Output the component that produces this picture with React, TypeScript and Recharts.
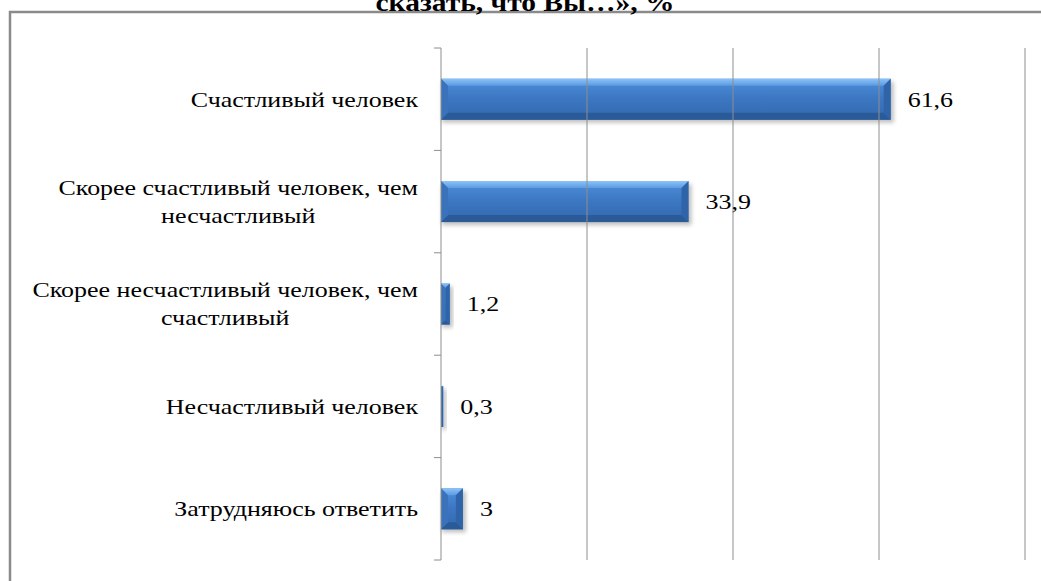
import React from 'react';
import { Bar, BarChart, LabelList, ReferenceLine, XAxis, YAxis } from 'recharts';

const categories = [
  'Счастливый человек',
  'Скорее счастливый человек, чем\nнесчастливый',
  'Скорее несчастливый человек, чем\nсчастливый',
  'Несчастливый человек',
  'Затрудняюсь ответить',
];
const values = [61.6, 33.9, 1.2, 0.3, 3];
const xTicks = [0, 20, 40, 60, 80];
const title = 'сказать, что Вы…», %';

const data = categories.map((name, i) => ({ name, value: values[i] }));

const W = 1041;
const H = 581;
const M = { top: 48, right: 16, bottom: 21, left: 0 };
const AXIS_W = 441;
const BAND = (H - M.top - M.bottom) / categories.length;
const FONT = "'Liberation Serif', 'Times New Roman', serif";
const GRID = '#8e8e8e';
const SX = 1.18; // the source picture is stretched sideways
const FS = 22;

let ctx: CanvasRenderingContext2D | null = null;
function textWidth(s: string, size: number) {
  if (!ctx) ctx = document.createElement('canvas').getContext('2d');
  if (!ctx) return s.length * size * 0.5;
  ctx.font = `${size}px 'Liberation Serif'`;
  return ctx.measureText(s).width;
}

function CategoryTick(props: any) {
  const { x, y, payload, index } = props;
  const lines = String(payload.value).split('\n');
  const lh = 28;
  const right = x - 23;
  const blockW = Math.max(...lines.map((l) => textWidth(l, FS)));
  const y0 = y - ((lines.length - 1) * lh) / 2;
  return (
    <g>
      <line x1={x - 7} x2={x} y1={y - BAND / 2} y2={y - BAND / 2} stroke={GRID} />
      {index === categories.length - 1 && (
        <line x1={x - 7} x2={x} y1={y + BAND / 2} y2={y + BAND / 2} stroke={GRID} />
      )}
      <g transform={`translate(${right},0) scale(${SX},1)`}>
        <text
          textAnchor={lines.length > 1 ? 'middle' : 'end'}
          dominantBaseline="central"
          fontSize={FS}
          fontFamily={FONT}
          fill="#000"
        >
          {lines.map((l, i) => (
            <tspan key={i} x={lines.length > 1 ? -blockW / 2 : 0} y={y0 + i * lh}>
              {l}
            </tspan>
          ))}
        </text>
      </g>
    </g>
  );
}

function ValueLabel(props: any) {
  const { x, y, width, height, value } = props;
  const tx = x + width + 17;
  const ty = y + height / 2;
  return (
    <g transform={`translate(${tx},${ty}) scale(${SX},1)`}>
      <text x={0} y={0} dominantBaseline="central" fontSize={FS} fontFamily={FONT} fill="#000">
        {String(value).replace('.', ',')}
      </text>
    </g>
  );
}

function BevelBar(props: any) {
  const { x, y, width, height } = props;
  if (!width || width <= 0) return null;
  const w = width;
  const h = height;
  const b = Math.min(7, w / 2, h / 2);
  return (
    <g>
      <rect x={x + 1} y={y + 3} width={w + 2} height={h} fill="#000" opacity={0.25} filter="url(#barShadow)" />
      <rect x={x} y={y} width={w} height={h} fill="url(#barBody)" />
      <polygon
        points={`${x},${y} ${x + w},${y} ${x + w - b},${y + b} ${x + b},${y + b}`}
        fill="url(#barTop)"
      />
      <polygon
        points={`${x},${y + h} ${x + w},${y + h} ${x + w - b},${y + h - b} ${x + b},${y + h - b}`}
        fill="#2a5b98"
      />
      <polygon
        points={`${x + w},${y} ${x + w},${y + h} ${x + w - b},${y + h - b} ${x + w - b},${y + b}`}
        fill="#2f65a8"
      />
      <polygon
        points={`${x},${y} ${x},${y + h} ${x + b},${y + h - b} ${x + b},${y + b}`}
        fill="#3a73bb"
      />
    </g>
  );
}

export default function App() {
  return (
    <div style={{ position: 'absolute', left: 0, top: 0, width: W, height: H, background: '#fff', overflow: 'hidden' }}>
      <svg width={W} height={H} style={{ position: 'absolute', left: 0, top: 0 }}>
        <rect x={10} y={12} width={W + 40} height={H + 40} fill="none" stroke="#8a8a8a" strokeWidth={2.5} />
        <g transform={`translate(525,11) scale(${SX},1)`}>
          <text x={0} y={0} textAnchor="middle" fontSize={25} fontWeight="bold" fontFamily={FONT} fill="#000">
            {title}
          </text>
        </g>
      </svg>
      <div style={{ position: 'absolute', left: 0, top: 0 }}>
        <BarChart width={W} height={H} data={data} layout="vertical" margin={M} barCategoryGap="30%">
          <defs>
            <linearGradient id="barBody" x1="0" y1="0" x2="0" y2="1">
              <stop offset="0%" stopColor="#4f8fdc" />
              <stop offset="45%" stopColor="#3d78c4" />
              <stop offset="100%" stopColor="#3368ad" />
            </linearGradient>
            <linearGradient id="barTop" x1="0" y1="0" x2="0" y2="1">
              <stop offset="0%" stopColor="#8cc3f6" />
              <stop offset="100%" stopColor="#5b9ae3" />
            </linearGradient>
            <filter id="barShadow" x="-10%" y="-20%" width="120%" height="160%">
              <feGaussianBlur stdDeviation="2" />
            </filter>
          </defs>
          <XAxis
            type="number"
            domain={[0, 80]}
            ticks={xTicks}
            tick={false}
            axisLine={false}
            tickLine={false}
            height={0}
          />
          <YAxis
            type="category"
            dataKey="name"
            width={AXIS_W}
            axisLine={{ stroke: GRID }}
            tickLine={false}
            tickSize={0}
            tickMargin={0}
            tick={<CategoryTick />}
            interval={0}
          />
          {xTicks.slice(1).map((t) => (
            <ReferenceLine key={t} x={t} stroke={GRID} ifOverflow="extendDomain" />
          ))}
          <Bar dataKey="value" shape={<BevelBar />} isAnimationActive={false}>
            <LabelList dataKey="value" content={<ValueLabel />} />
          </Bar>
        </BarChart>
      </div>
    </div>
  );
}
